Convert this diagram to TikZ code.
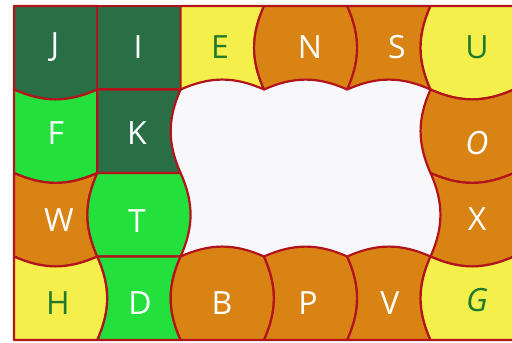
\documentclass[tikz,border=0pt]{standalone}
\usepackage{fontspec}
\setmainfont{Open Sans}
\definecolor{dkg}{HTML}{2A6E46}
\definecolor{brg}{HTML}{24E03C}
\definecolor{yel}{HTML}{F5EF4B}
\definecolor{org}{HTML}{D88314}
\definecolor{hol}{HTML}{F8F8FA}
\definecolor{lnr}{HTML}{B3141C}
\definecolor{txg}{HTML}{1F7A2C}
\begin{document}
\begin{tikzpicture}[x=0.5pt,y=0.5pt,
  cvx/.style={bend left=24},
  ccv/.style={bend right=24},
  tile/.style={draw=lnr,line width=1.1pt,line join=round},
  lab/.style={font=\fontsize{16}{16}\selectfont,text=white,inner sep=0pt,anchor=center},
  laby/.style={lab,text=txg}]
\useasboundingbox (0,0) rectangle (512,342);
\clip (0,0) rectangle (512,342);
\fill[white] (0,0) rectangle (512,342);
% grid points
\foreach \i/\x in {0/14,1/97.3,2/180.6,3/264,4/347.2,5/430.5,6/513.8}{
  \foreach \j/\y in {0/336,1/252.5,2/169,3/85.5,4/2}{
    \coordinate (p\i\j) at (\x,\y);
  }
}
% inner field
\fill[hol] (p00) rectangle (p64);
% row 0
\path[tile,fill=dkg] (p00) -- (p10) -- (p11) to[cvx] (p01) -- cycle;
\path[tile,fill=dkg] (p10) -- (p20) -- (p21) -- (p11) -- cycle;
\path[tile,fill=yel] (p20) -- (p30) to[ccv] (p31) to[ccv] (p21) -- cycle;
\path[tile,fill=org] (p30) -- (p40) to[cvx] (p41) to[ccv] (p31) to[cvx] (p30) -- cycle;
\path[tile,fill=org] (p40) -- (p50) to[ccv] (p51) to[ccv] (p41) to[ccv] (p40) -- cycle;
\path[tile,fill=yel] (p50) -- (p60) -- (p61) to[cvx] (p51) to[cvx] (p50) -- cycle;
% row 1
\path[tile,fill=brg] (p01) to[ccv] (p11) -- (p12) to[cvx] (p02) -- cycle;
\path[tile,fill=dkg] (p11) -- (p21) to[ccv] (p22) -- (p12) -- cycle;
\path[tile,fill=org] (p51) to[ccv] (p61) -- (p62) to[cvx] (p52) to[cvx] (p51) -- cycle;
% row 2
\path[tile,fill=org] (p02) to[ccv] (p12) to[ccv] (p13) to[cvx] (p03) -- cycle;
\path[tile,fill=brg] (p12) -- (p22) to[cvx] (p23) -- (p13) to[cvx] (p12) -- cycle;
\path[tile,fill=org] (p52) to[ccv] (p62) -- (p63) to[cvx] (p53) to[ccv] (p52) -- cycle;
% row 3
\path[tile,fill=yel] (p03) to[ccv] (p13) to[cvx] (p14) -- (p04) -- cycle;
\path[tile,fill=brg] (p13) -- (p23) to[ccv] (p24) -- (p14) to[ccv] (p13) -- cycle;
\path[tile,fill=org] (p23) to[cvx] (p33) to[cvx] (p34) -- (p24) to[cvx] (p23) -- cycle;
\path[tile,fill=org] (p33) to[cvx] (p43) to[cvx] (p44) -- (p34) to[ccv] (p33) -- cycle;
\path[tile,fill=org] (p43) to[cvx] (p53) to[ccv] (p54) -- (p44) to[ccv] (p43) -- cycle;
\path[tile,fill=yel] (p53) to[ccv] (p63) -- (p64) -- (p54) to[cvx] (p53) -- cycle;
% frame
\draw[tile] (p00) rectangle (p64);
% labels
\node[lab]  (tJ) at (55,295) {J};
\node[lab]  (tI) at (138,295) {I};
\node[laby] (tE) at (220,295) {E};
\node[lab]  (tN) at (310,295) {N};
\node[lab]  (tS) at (397,295) {S};
\node[laby] (tU) at (477,295) {U};
\node[lab]  (tF) at (56,209) {F};
\node[lab]  (tK) at (137,209) {K};
\node[lab]  (tO) at (477,199) {\itshape O};
\node[lab]  (tW) at (59,122) {W};
\node[lab]  (tT) at (137,121) {T};
\node[lab]  (tX) at (477,123) {X};
\node[laby] (tH) at (58,39) {H};
\node[lab]  (tD) at (140,39) {D};
\node[lab]  (tB) at (222,39) {B};
\node[lab]  (tP) at (308,39) {P};
\node[lab]  (tV) at (390,39) {V};
\node[laby] (tG) at (477,42) {\itshape G};
\end{tikzpicture}
\end{document}
